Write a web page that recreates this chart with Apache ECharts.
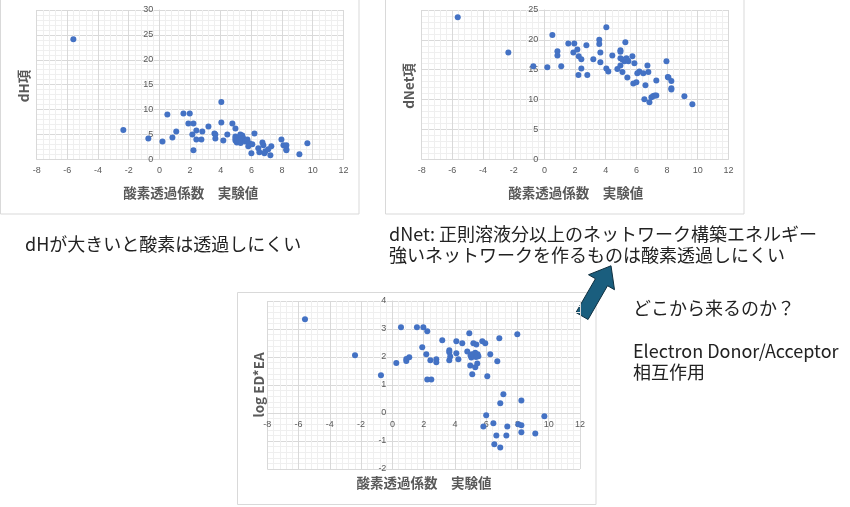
<!DOCTYPE html>
<html>
<head>
<meta charset="utf-8">
<script src="https://cdn.jsdelivr.net/npm/echarts@6/dist/echarts.min.js"></script>
<style>
html,body{margin:0;padding:0;background:#fff;}
#main{width:850px;height:507px;}
</style>
</head>
<body>
<div id="main"></div>
<script>
// ---- data ----
const xTitle = '酸素透過係数　実験値';
const yTitles = ['dH項', 'dNet項', 'log ED*EA'];

const dhX = [-5.61,-2.35,-0.72,0.2,0.52,0.85,1.1,1.57,1.89,1.98,2.22,2.15,2.22,2.41,2.41,2.8,2.74,3.2,3.59,3.65,3.65,4.04,4.04,4.17,4.43,4.76,4.96,4.96,4.96,4.96,5.05,5.1,5.15,5.22,5.28,5.35,5.41,5.48,5.3,5.6,6.2,5.74,5.87,5.8,6.06,6.0,6.72,6.78,6.45,6.52,6.91,6.85,7.1,7.3,7.24,7.96,8.09,8.28,8.28,8.28,9.13,9.65,5.0,5.2];
const dhY = [24.1,5.9,4.2,3.6,9.0,4.4,5.6,9.2,7.2,9.2,7.2,5.0,1.8,5.8,4.0,5.6,4.0,6.6,5.2,5.0,4.2,11.5,7.4,3.8,5.0,7.2,6.2,4.6,4.2,3.8,3.4,4.0,3.6,4.4,5.0,3.8,4.8,4.2,3.3,3.6,5.2,4.0,3.2,2.6,3.0,1.2,3.4,2.8,2.2,1.4,1.6,1.2,2.0,2.6,0.8,4.0,2.8,2.8,2.0,1.8,1.0,3.2,4.4,3.9];

const netX = [-5.65,-2.35,-0.72,0.19,0.52,0.85,0.85,1.1,1.56,1.95,1.89,2.15,2.24,2.41,2.41,2.22,2.74,2.8,3.19,3.58,3.58,3.65,3.65,4.04,4.04,4.17,4.43,4.76,4.96,4.96,4.96,4.96,5.09,5.09,5.22,5.28,5.35,5.41,5.48,5.41,5.74,5.87,6.72,7.96,6.19,6.06,6.45,6.78,5.8,6.0,6.59,7.3,8.09,8.28,8.28,8.28,6.52,6.85,6.98,7.1,7.2,7.3,9.13,9.65,8.05];
const netY = [23.8,17.9,15.6,15.4,20.8,18.1,17.4,15.6,19.4,19.4,17.9,18.4,17.25,16.75,15.2,14.1,19.1,14.1,16.75,20.0,19.3,17.9,16.25,22.1,15.2,14.7,17.4,15.1,18.25,18.0,16.9,15.7,14.6,16.7,16.4,19.6,16.9,16.6,16.4,13.7,17.25,16.1,15.7,16.4,14.7,14.4,14.4,14.6,12.7,12.9,12.4,13.2,13.7,13.1,11.9,11.7,10.05,9.55,10.4,10.6,10.7,10.7,10.55,9.2,13.8];

const edX = [-5.59,-2.39,-0.73,0.25,0.55,0.89,0.89,1.08,1.57,1.98,1.91,2.23,2.17,2.43,2.23,2.49,2.81,2.81,3.19,3.64,3.64,3.64,3.7,4.09,4.09,4.22,4.47,4.79,4.92,4.98,5.11,5.18,5.37,5.3,5.43,5.0,5.05,5.1,5.2,5.3,5.35,5.45,5.5,5.75,5.94,6.26,6.07,6.71,6.84,7.99,7.1,6.9,8.25,6.0,5.82,6.46,6.65,6.52,6.9,7.29,7.35,8.06,8.25,8.25,9.14,9.72];
const edY = [3.35,2.06,1.35,1.79,3.06,1.93,1.86,1.99,3.06,3.06,2.35,2.92,2.1,1.88,1.2,1.2,1.92,1.81,2.6,2.24,2.17,1.88,2.02,2.56,2.13,1.92,2.49,2.2,2.85,1.7,1.38,2.49,2.45,1.63,1.77,2.05,1.98,2.1,2.05,2.15,2.0,2.1,2.03,2.56,2.49,2.1,1.31,1.85,2.67,2.81,0.67,0.35,0.45,-0.08,-0.48,-0.37,-0.8,-1.12,-1.23,-0.8,-0.48,-0.4,-0.44,-0.69,-0.73,-0.12];

const xRange = [-8, 12, 2];
const yRanges = [[0, 30, 5], [0, 25, 5], [-2, 4, 1]];

const noteDH = 'dHが大きいと酸素は透過しにくい';
const noteNet = ['dNet: 正則溶液分以上のネットワーク構築エネルギー', '強いネットワークを作るものは酸素透過しにくい'];
const noteQ = ['どこから来るのか？', 'Electron Donor/Acceptor', '相互作用'];

// ---- layout ----
const grids = [
  {left: 36.7, top: 10, width: 306.7, height: 149.3},
  {left: 421.7, top: 10, width: 306.7, height: 149.3},
  {left: 267.3, top: 301, width: 312.7, height: 168}
];
const boxes = [
  [0.5, -2, 358.5, 216],
  [385.5, -2, 358.5, 216],
  [237.5, 292.5, 358.5, 212]
];
const labelColor = '#595959';
const major = '#d9d9d9';
const minor = '#efefef';
const lblFont = 'Liberation Sans, Arial, sans-serif';
const cjk = '"Noto Sans CJK JP", "Noto Sans", sans-serif';

function pairs(xs, ys){ return xs.map((x,i)=>[x, ys[i]]); }

// shift axes so that they cross at zero (labels travel with them)
function zeroOffset(range, size){ return -size * (0 - range[0]) / (range[1] - range[0]); }

const xAxes = grids.map((g,i)=>({
  type:'value', gridIndex:i, min:xRange[0], max:xRange[1], interval:xRange[2],
  position:'bottom',
  offset: zeroOffset(yRanges[i], g.height),
  axisLine:{show:true, onZero:false, lineStyle:{color:major, width:1}},
  axisTick:{show:false},
  axisLabel:{color:labelColor, fontSize:9, fontFamily:lblFont, margin:7},
  splitLine:{show:true, lineStyle:{color:major, width:1}},
  minorTick:{show:false, splitNumber:5},
  minorSplitLine:{show:true, lineStyle:{color:minor, width:1}}
}));
const yAxes = grids.map((g,i)=>({
  type:'value', gridIndex:i, min:yRanges[i][0], max:yRanges[i][1], interval:yRanges[i][2],
  position:'left',
  offset: zeroOffset(xRange, g.width),
  axisLine:{show:true, onZero:false, lineStyle:{color:major, width:1}},
  axisTick:{show:false},
  axisLabel:{color:labelColor, fontSize:9, fontFamily:lblFont, margin:6},
  splitLine:{show:true, lineStyle:{color:major, width:1}},
  minorTick:{show:false, splitNumber:5},
  minorSplitLine:{show:true, lineStyle:{color:minor, width:1}}
}));

const datasets = [pairs(dhX, dhY), pairs(netX, netY), pairs(edX, edY)];
const series = datasets.map((d,i)=>({
  type:'scatter', xAxisIndex:i, yAxisIndex:i, data:d, symbol:'circle', symbolSize:6,
  itemStyle:{color:'#4472C4', opacity:1}, silent:true
}));

const graphic = [];
boxes.forEach(b=>graphic.push({type:'rect', shape:{x:b[0], y:b[1], width:b[2], height:b[3]},
  style:{fill:'transparent', stroke:'#d9d9d9', lineWidth:1}}));

// axis titles
const xTitlePos = [[190.7, 193], [575.7, 193], [424, 483]];
const yTitlePos = [[24, 86], [409, 86], [259, 385]];
xTitlePos.forEach(p=>graphic.push({type:'text', x:p[0], y:p[1],
  style:{text:xTitle, font:'bold 13.5px '+cjk, fill:labelColor, textAlign:'center', textVerticalAlign:'middle'}}));
yTitlePos.forEach((p,i)=>graphic.push({type:'text', x:p[0], y:p[1], rotation:Math.PI/2,
  style:{text:yTitles[i], font:'bold 13.5px '+cjk, fill:labelColor, textAlign:'center', textVerticalAlign:'middle'}}));

// notes
const noteFont = '18px '+cjk;
const noteColor = '#222222';
graphic.push({type:'text', x:25, y:244, style:{text:noteDH, font:noteFont, fill:noteColor, textVerticalAlign:'middle'}});
graphic.push({type:'text', x:389, y:234, style:{text:noteNet[0], font:noteFont, fill:noteColor, textVerticalAlign:'middle'}});
graphic.push({type:'text', x:389, y:255, style:{text:noteNet[1], font:noteFont, fill:noteColor, textVerticalAlign:'middle'}});
graphic.push({type:'text', x:633, y:308, style:{text:noteQ[0], font:noteFont, fill:noteColor, textVerticalAlign:'middle'}});
graphic.push({type:'text', x:633, y:351, style:{text:noteQ[1], font:noteFont, fill:noteColor, textVerticalAlign:'middle'}});
graphic.push({type:'text', x:633, y:372, style:{text:noteQ[2], font:noteFont, fill:noteColor, textVerticalAlign:'middle'}});

// block arrow
(function(){
  const T=[582,316], L=58, H=19, w=7, hw=15;
  const d=[0.5,-0.866], n=[0.866,0.5];
  const P=(s,t)=>[T[0]+s*d[0]+t*n[0], T[1]+s*d[1]+t*n[1]];
  const pts=[P(0,-w),P(L-H,-w),P(L-H,-hw),P(L,0),P(L-H,hw),P(L-H,w),P(0,w)];
  graphic.push({type:'polygon', shape:{points:pts}, style:{fill:'#1a5e7e', stroke:'#0f2f3f', lineWidth:1}});
})();

const chart = echarts.init(document.getElementById('main'), null, {renderer:'canvas'});
chart.setOption({
  animation:false,
  backgroundColor:'#ffffff',
  grid: grids,
  xAxis:xAxes, yAxis:yAxes, series:series, graphic:graphic
});
</script>
</body>
</html>
